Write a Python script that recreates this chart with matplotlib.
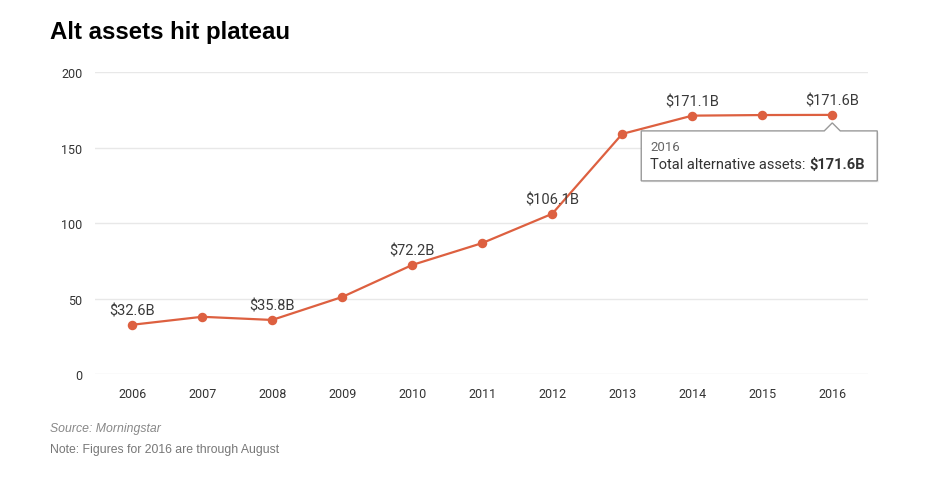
import matplotlib.pyplot as plt
from matplotlib.patches import Polygon
import matplotlib.transforms as mtrans

# donnees
years = [2006, 2007, 2008, 2009, 2010, 2011, 2012, 2013, 2014, 2015, 2016]
assets = [32.6, 37.9, 35.8, 51.0, 72.2, 86.7, 106.1, 159.0, 171.1, 171.5, 171.6]
labelled = {2006: "$32.6B", 2008: "$35.8B", 2010: "$72.2B", 2012: "$106.1B",
            2014: "$171.1B", 2016: "$171.6B"}
yticks = [0, 50, 100, 150, 200]

orange = "#dd6040"
txt = "#333333"

fig = plt.figure(figsize=(9.35, 4.89), dpi=100)
ax = fig.add_axes([0.1016, 0.2331, 0.8267, 0.6176])

for y in yticks:
    ax.axhline(y, color="#e8e8e8", lw=1, zorder=0)

ax.plot(years, assets, color=orange, lw=1.6, zorder=3)
ax.scatter(years, assets, color=orange, s=34, zorder=4)

for yr, lab in labelled.items():
    v = assets[years.index(yr)]
    ax.annotate(lab, (yr, v), xytext=(0, 5.5), textcoords="offset points",
                ha="center", va="bottom", fontsize=10.5, family="Roboto",
                color="#3a3a3a", zorder=5)

ax.set_xlim(2005.47, 2016.51)
ax.set_ylim(0, 200)
ax.set_xticks(years)
ax.set_yticks(yticks)
ax.tick_params(length=0, labelsize=9, labelcolor=txt, pad=9)
for t in ax.get_xticklabels() + ax.get_yticklabels():
    t.set_family("Roboto")
for s in ax.spines.values():
    s.set_visible(False)

# info-bulle sur 2016
px = 1 / 100
base = ax.transData
def off(dx, dy):
    return base + mtrans.ScaledTranslation(dx * px, -dy * px, fig.dpi_scale_trans)

x0, y0 = years[-1], assets[-1]
pts = [(-191, 16), (-8, 16), (0, 8), (8, 16), (45, 16), (45, 66), (-191, 66)]
shadow = Polygon([(x0, y0)] * len(pts), closed=True, fc="#00000010", ec="none", zorder=5)
box = Polygon([(x0, y0)] * len(pts), closed=True, fc="white", ec="#999999", lw=1, zorder=6)
ax.add_patch(shadow)
ax.add_patch(box)
# on place les sommets en pixels relatifs au point
disp = ax.transData.transform((x0, y0))
def verts(dx0, dy0):
    return [ax.transData.inverted().transform((disp[0] + dx + dx0, disp[1] - dy - dy0))
            for dx, dy in pts]
box.set_xy(verts(0, 0))
shadow.set_xy(verts(1.5, 1.5))
box.set_clip_on(False)
shadow.set_clip_on(False)

t1 = ax.text(x0, y0, "2016", transform=off(-182, 32), ha="left", va="center",
             fontsize=9.5, family="Roboto", color="#666666", zorder=7)
t2 = ax.text(x0, y0, "Total alternative assets: ", transform=off(-182, 49),
             ha="left", va="center", fontsize=10.5, family="Roboto", color=txt, zorder=7)
ax.annotate("$171.6B", xy=(1, 0.5), xycoords=t2, ha="left", va="center",
            fontsize=10.5, family="Roboto", fontweight="bold", color=txt, zorder=7)

fig.text(50 / 935, 1 - 33 / 489, "Alt assets hit plateau", fontsize=17.3,
         fontweight="bold", family="Liberation Sans", color="black", va="center")
fig.text(50 / 935, 1 - 429 / 489, "Source: Morningstar", fontsize=8.8,
         style="italic", family="Liberation Sans", color="#888888", va="center")
fig.text(50 / 935, 1 - 450 / 489, "Note: Figures for 2016 are through August",
         fontsize=8.8, family="Liberation Sans", color="#777777", va="center")

fig.savefig("out.png", dpi=100)
